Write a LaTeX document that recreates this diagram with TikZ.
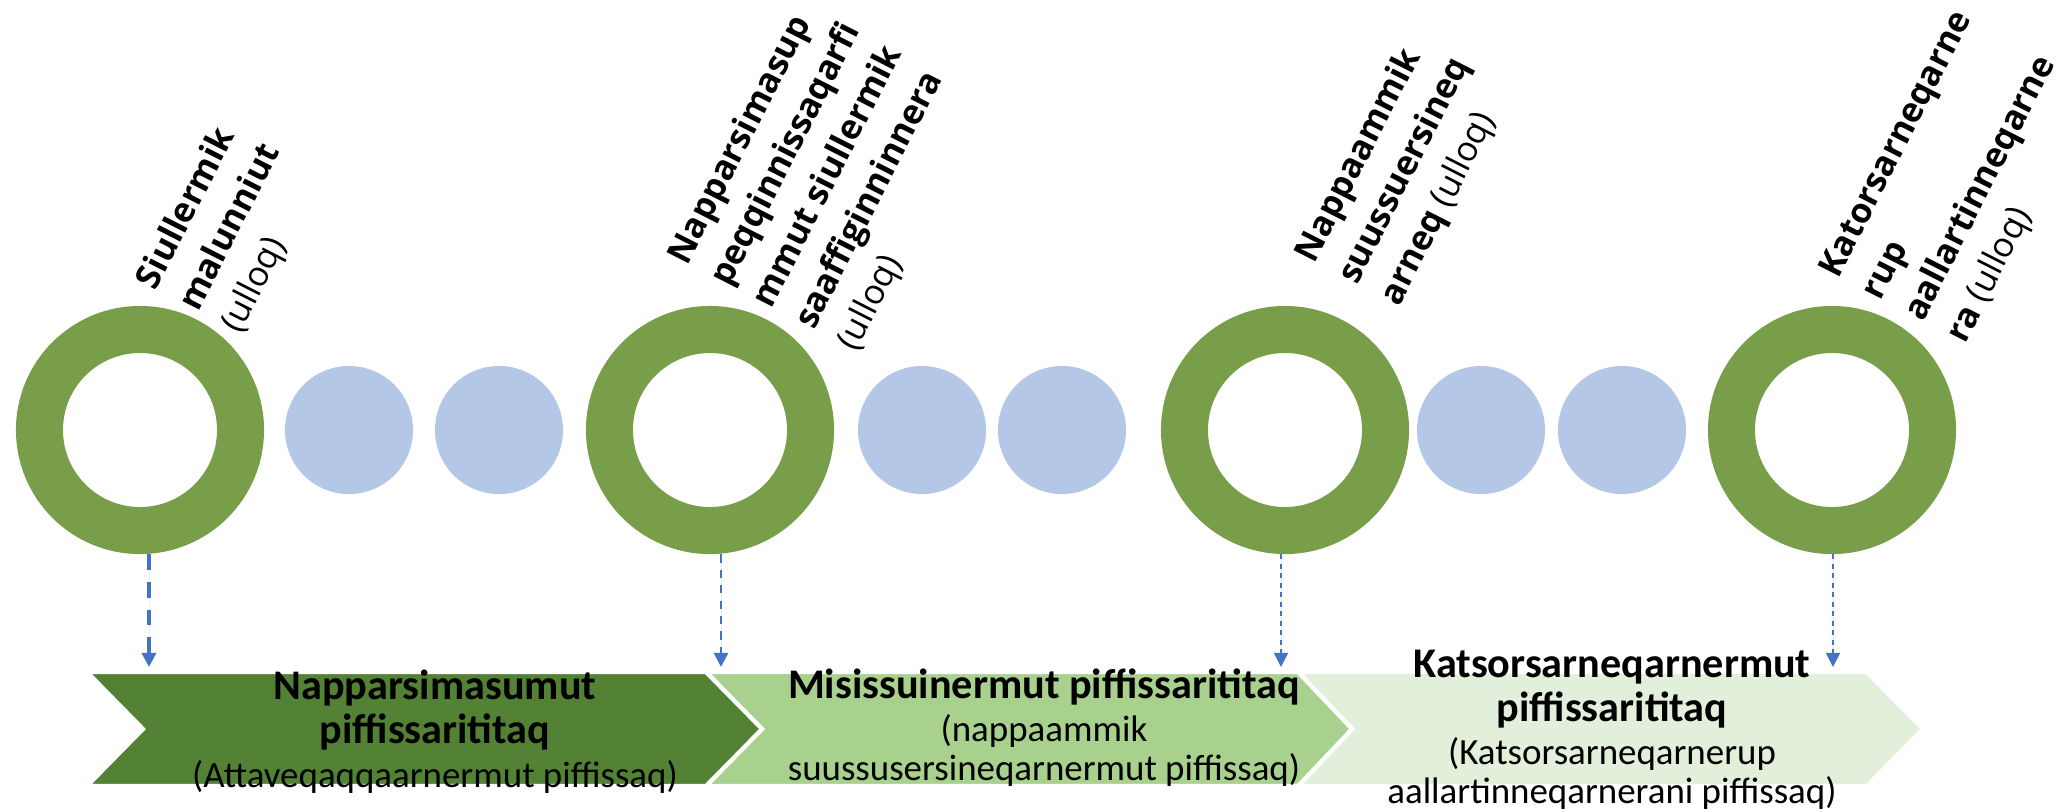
\documentclass[tikz,border=0pt]{standalone}
\usepackage{fontspec}
\setmainfont{Carlito}
\newfontfamily\labelfont{Open Sans}
\usetikzlibrary{arrows.meta,positioning}

\definecolor{ringgreen}{RGB}{120,158,74}
\definecolor{dotblue}{RGB}{180,199,231}
\definecolor{linkblue}{RGB}{68,114,196}
\definecolor{phaseone}{RGB}{84,130,53}
\definecolor{phasetwo}{RGB}{169,209,142}
\definecolor{phasethree}{RGB}{226,239,218}

\newcommand\phasehead[1]{{\fontsize{12}{12.4}\selectfont\bfseries #1}}

\begin{document}
\begin{tikzpicture}[x=0.01cm,y=-0.01cm,>={Triangle[length=4pt,width=4pt]},
        ring/.style={circle,draw=ringgreen,line width=0.47cm,minimum size=2.01cm,inner sep=0pt},
        dot/.style={circle,fill=dotblue,minimum size=1.28cm,inner sep=0pt},
        marker/.style={rotate=63,anchor=base west,align=left,inner sep=0pt,
            font=\labelfont\fontsize{9.8}{13.5}\selectfont},
        phase/.style={align=center,anchor=base,inner sep=0pt,font=\fontsize{10.5}{12.4}\selectfont},
        link/.style={->,draw=linkblue,fill=linkblue},
        chevron/.style={draw=white,line width=1.2pt}]
    \useasboundingbox (0,0) rectangle (2060,811);
    \node[ring] (r1) at (140,430) {};
    \node[ring] (r2) at (710,430) {};
    \node[ring] (r3) at (1285,430) {};
    \node[ring] (r4) at (1832,430) {};
    \node[dot] (d1) at (349,430) {};
    \node[dot] (d2) at (499,430) {};
    \node[dot] (d3) at (922,430) {};
    \node[dot] (d4) at (1062,430) {};
    \node[dot] (d5) at (1481,430) {};
    \node[dot] (d6) at (1622,430) {};

    \node[marker] (m1) at (240,335) {\textbf{Siullermik}\\\textbf{malunniut}\\(ulloq)};
    \node[marker] (m2) at (856,353) {\textbf{Napparsimasup}\\\textbf{peqqinnissaqarfi}\\\textbf{mmut siullermik}\\\textbf{saaffiginninnera}\\(ulloq)};
    \node[marker] (m3) at (1399,308) {\textbf{Nappaammik}\\\textbf{suussuersineq}\\\textbf{arneq} (ulloq)};
    \node[marker] (m4) at (1965,345) {\textbf{Katorsarneqarne}\\\textbf{rup}\\\textbf{aallartinneqarne}\\\textbf{ra} (ulloq)};

    \filldraw[chevron,fill=phasethree] (1298,672) -- (1867,672) -- (1923,729) -- (1867,786) -- (1298,786) -- (1352,729) -- cycle;
    \filldraw[chevron,fill=phasetwo] (706,672) -- (1298,672) -- (1352,729) -- (1298,786) -- (706,786) -- (762,729) -- cycle;
    \filldraw[chevron,fill=phaseone] (87,672) -- (706,672) -- (762,729) -- (706,786) -- (87,786) -- (143,729) -- cycle;

    \node[phase] (p1) at (435,787) {\phasehead{Napparsimasumut}\\\phasehead{piffissarititaq}\\(Attaveqaqqaarnermut piffissaq)};
    \node[phase] (p2) at (1044,780) {\phasehead{Misissuinermut piffissarititaq}\\(nappaammik\\[-1.5pt]suussusersineqarnermut piffissaq)};
    \node[phase] (p3) at (1612,803) {\phasehead{Katsorsarneqarnermut}\\\phasehead{piffissarititaq}\\(Katsorsarneqarnerup\\[-1.5pt]aallartinneqarnerani piffissaq)};

    \coordinate (t1) at (149,667);
    \coordinate (t2) at (721,667);
    \coordinate (t3) at (1281,667);
    \coordinate (t4) at (1833,667);
    \draw[link,line width=0.9pt,dash pattern=on 4.5pt off 3.4pt] (r1.south -| t1) -- (t1);
    \draw[link,line width=0.7pt,dash pattern=on 2.4pt off 2pt] (r2.south -| t2) -- (t2);
    \draw[link,line width=0.4pt,dash pattern=on 1.5pt off 1.2pt] (r3.south -| t3) -- (t3);
    \draw[link,line width=0.4pt,dash pattern=on 1.5pt off 1.2pt] (r4.south -| t4) -- (t4);
\end{tikzpicture}
\end{document}
